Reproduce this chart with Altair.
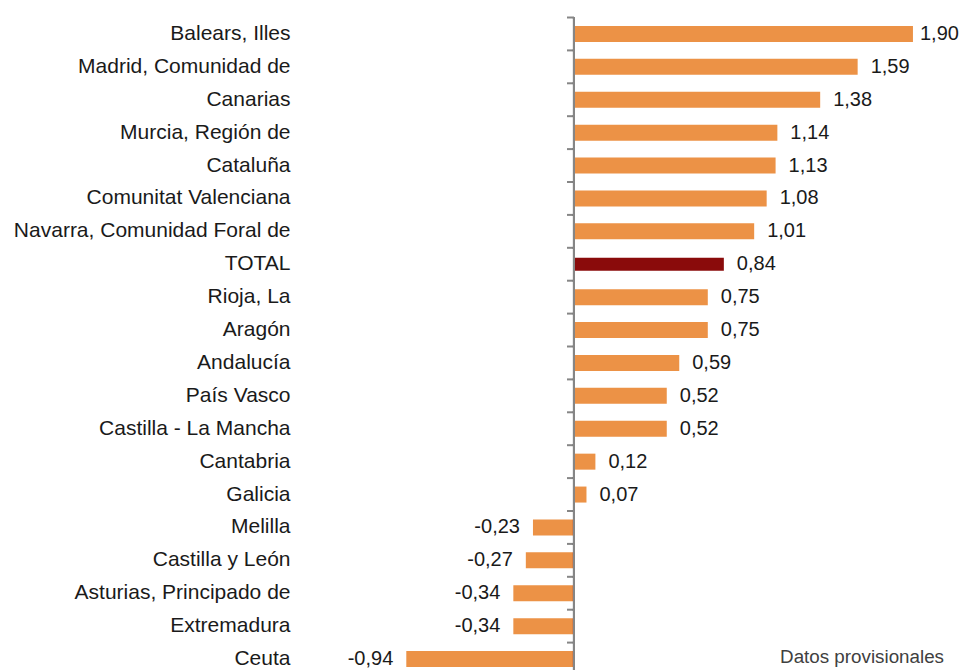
import altair as alt
import pandas as pd

categories = [
    "Balears, Illes", "Madrid, Comunidad de", "Canarias", "Murcia, Región de",
    "Cataluña", "Comunitat Valenciana", "Navarra, Comunidad Foral de", "TOTAL",
    "Rioja, La", "Aragón", "Andalucía", "País Vasco", "Castilla - La Mancha",
    "Cantabria", "Galicia", "Melilla", "Castilla y León",
    "Asturias, Principado de", "Extremadura", "Ceuta",
]
values = [1.90, 1.59, 1.38, 1.14, 1.13, 1.08, 1.01, 0.84, 0.75, 0.75,
          0.59, 0.52, 0.52, 0.12, 0.07, -0.23, -0.27, -0.34, -0.34, -0.94]
note = "Datos provisionales"

df = pd.DataFrame({
    "cat": categories,
    "val": values,
    "lbl": [f"{v:.2f}".replace(".", ",") for v in values],
    "total": [c == "TOTAL" for c in categories],
})
vmax = max(values)

FONT = "Liberation Sans"
ORANGE = "#EC9246"
DARKRED = "#8A0B0B"
H = 658
W = 650
step = H / len(categories)

y_enc = alt.Y(
    "cat:N", sort=categories, title=None,
    scale=alt.Scale(paddingInner=0, paddingOuter=0),
    axis=alt.Axis(domain=False, ticks=False, tickSize=0, labelPadding=18,
                  labelFontSize=21, labelFont=FONT, labelColor="#1a1a1a",
                  labelLimit=400),
)
x_scale = alt.Scale(domain=[-1.491, 2.1525], nice=False, zero=False)
x_enc = alt.X("val:Q", scale=x_scale, axis=None, title=None)

base = alt.Chart(df)

bars = base.transform_filter("!datum.total").mark_bar(color=ORANGE, size=16).encode(
    y=y_enc, x=x_enc, x2=alt.datum(0))
total_bar = base.transform_filter("datum.total").mark_bar(color=DARKRED, size=13).encode(
    y=y_enc, x=x_enc, x2=alt.datum(0))

pos_text = base.transform_filter(f"datum.val >= 0 && datum.val < {vmax}").mark_text(
    align="left", baseline="middle", dx=13, fontSize=20, font=FONT, color="#1a1a1a"
).encode(y=y_enc, x=x_enc, text="lbl:N")
max_text = base.transform_filter(f"datum.val == {vmax}").mark_text(
    align="left", baseline="middle", dx=7, fontSize=20, font=FONT, color="#1a1a1a"
).encode(y=y_enc, x=x_enc, text="lbl:N")
neg_text = base.transform_filter("datum.val < 0").mark_text(
    align="right", baseline="middle", dx=-13, fontSize=20, font=FONT, color="#1a1a1a"
).encode(y=y_enc, x=x_enc, text="lbl:N")

axis_line = base.mark_rule(color="#868686", strokeWidth=2).encode(
    x=alt.datum(0, scale=x_scale), y=alt.value(0), y2=alt.value(H))
ticks = base.mark_rule(color="#868686", strokeWidth=2, yOffset=-step / 2, x2Offset=-7).encode(
    y=y_enc, x=alt.datum(0), x2=alt.datum(0))

note_text = alt.Chart(pd.DataFrame({"t": [note]})).mark_text(
    align="right", baseline="middle", fontSize=18.8, font=FONT, color="#404040"
).encode(text="t:N", x=alt.value(636), y=alt.value(639))

chart = alt.layer(bars, total_bar, pos_text, max_text, neg_text, ticks, axis_line,
                  note_text).properties(
    width=W, height=H,
    autosize=alt.AutoSizeParams(type="none"),
    padding={"left": 300, "top": 9.5, "right": 2, "bottom": 0},
).configure_view(stroke=None)

chart.save("out.html", embed_options={"renderer": "svg", "actions": False})
